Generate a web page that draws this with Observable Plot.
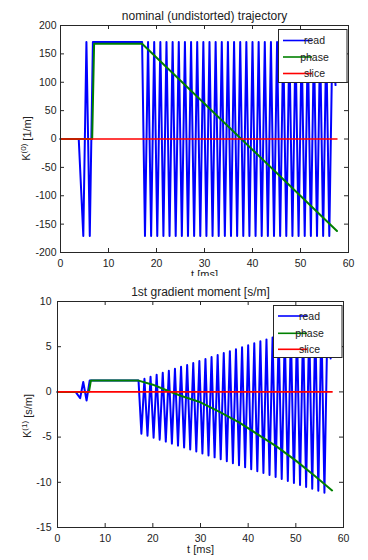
<!DOCTYPE html>
<html><head><meta charset="utf-8">
<script src="https://cdn.jsdelivr.net/npm/d3@7"></script>
<script src="https://cdn.jsdelivr.net/npm/@observablehq/plot@0.6"></script>
<style>
body{margin:0;background:#fff;}
#wrap{width:368px;height:560px;overflow:hidden;background:#fff;}
#wrap svg{display:block;overflow:hidden;}
</style>
</head><body><div id="wrap"></div>
<script>
// ---- data ----
const xTicks = [0, 10, 20, 30, 40, 50, 60];
const yTicks0 = [-200, -150, -100, -50, 0, 50, 100, 150, 200];
const yTicks1 = [-15, -10, -5, 0, 5, 10];
const seriesNames = ["read", "phase", "slice"];
const seriesColors = ["#0000ff", "#008000", "#ff0000"];

const readT = [0, 3.8, 4.75, 5.4, 6.1, 6.75, 17.0,
  17.6, 18.24, 18.88, 19.52, 20.16, 20.80, 21.44, 22.08, 22.72, 23.36, 24.00, 24.64,
  25.28, 25.92, 26.56, 27.20, 27.84, 28.48, 29.12, 29.76, 30.40, 31.04, 31.68, 32.32,
  32.96, 33.60, 34.24, 34.88, 35.52, 36.16, 36.80, 37.44, 38.08, 38.72, 39.36, 40.00,
  40.64, 41.28, 41.92, 42.56, 43.20, 43.84, 44.48, 45.12, 45.76, 46.40, 47.04, 47.68,
  48.32, 48.96, 49.60, 50.24, 50.88, 51.52, 52.16, 52.80, 53.44, 54.08, 54.72, 55.36,
  56.00, 56.64, 57.3];
const readK0 = [0, 0, -171, 171, -171, 171, 171,
  -171, 171, -171, 171, -171, 171, -171, 171, -171, 171, -171, 171,
  -171, 171, -171, 171, -171, 171, -171, 171, -171, 171, -171, 171,
  -171, 171, -171, 171, -171, 171, -171, 171, -171, 171, -171, 171,
  -171, 171, -171, 171, -171, 171, -171, 171, -171, 171, -171, 171,
  -171, 171, -171, 171, -171, 171, -171, 171, -171, 171, -171, 171,
  -171, 171, 95];
const readK1 = [0, 0, -0.7, 1.1, -0.95, 1.25, 1.25,
  -4.63, 1.46, -4.85, 1.68, -5.07, 1.90, -5.28, 2.11, -5.50, 2.33, -5.72, 2.55,
  -5.94, 2.77, -6.16, 2.98, -6.37, 3.20, -6.59, 3.42, -6.81, 3.64, -7.03, 3.85,
  -7.24, 4.07, -7.46, 4.29, -7.68, 4.51, -7.90, 4.72, -8.11, 4.94, -8.33, 5.16,
  -8.55, 5.38, -8.77, 5.60, -8.98, 5.81, -9.20, 6.03, -9.42, 6.25, -9.64, 6.47,
  -9.85, 6.68, -10.07, 6.90, -10.29, 7.12, -10.51, 7.34, -10.72, 7.55, -10.94, 7.77,
  -11.16, 7.99, 3.7];

const phaseT0 = [0, 6.6, 7.0, 17.0, 57.6];
const phaseK0 = [0, 0, 168, 168, -162];
const phaseT1 = [0, 6.6, 7.0, 17.0, 20, 23, 26, 30, 34, 38, 42, 46, 50, 54, 57.6];
const phaseK1 = [0, 0, 1.25, 1.25, 0.8, 0.15, -0.45, -1.15, -2.2, -3.35, -4.7, -6.05, -7.6, -9.3, -10.9];

const sliceT = [0, 57.6];
const sliceK = [0, 0];

const zip = (ts, vs) => ts.map((t, i) => ({t, v: vs[i]}));

const FONT = "Liberation Sans, Arial, Helvetica, sans-serif";
const INK = "#262626";

function panel(o) {
  const W = 368;
  const innerH = o.height - o.marginTop - o.marginBottom;
  const innerW = W - o.marginLeft - o.marginRight;
  const svg = Plot.plot({
    width: W, height: o.height,
    marginTop: o.marginTop, marginBottom: o.marginBottom,
    marginLeft: o.marginLeft, marginRight: o.marginRight,
    style: {fontFamily: FONT, fontSize: "10.5px", color: "#222", background: "white", overflow: "hidden"},
    x: {domain: [0, 60], ticks: xTicks, tickSize: 0, tickPadding: 7, label: null, tickFormat: d => String(d)},
    y: {domain: o.yDomain, ticks: o.yTicks, tickSize: 0, tickPadding: o.padY, label: null, tickFormat: d => String(d)},
    marks: [
      Plot.ruleX(xTicks, {x: d => d, insetTop: innerH - 4, stroke: INK}),
      Plot.ruleX(xTicks, {x: d => d, insetBottom: innerH - 4, stroke: INK}),
      Plot.ruleY(o.yTicks, {y: d => d, insetRight: innerW - 4, stroke: INK}),
      Plot.ruleY(o.yTicks, {y: d => d, insetLeft: innerW - 4, stroke: INK}),
      Plot.line(o.read, {x: "t", y: "v", stroke: seriesColors[0], strokeWidth: 2}),
      Plot.line(o.phase, {x: "t", y: "v", stroke: seriesColors[1], strokeWidth: 2}),
      Plot.line(o.slice, {x: "t", y: "v", stroke: seriesColors[2], strokeWidth: 1.6}),
      Plot.frame({stroke: INK}),
      Plot.text([o.title], {frameAnchor: "top", dy: o.titleDy, fontSize: 12, fill: "#222"}),
      Plot.text(["t [ms]"], {frameAnchor: "bottom", dy: 25, fontSize: 11, fill: "#222"})
    ]
  });
  const s = d3.select(svg);
  // y label with superscript
  const yl = s.append("text")
    .attr("transform", `translate(${o.ylabelX},${o.ylabelY}) rotate(-90)`)
    .attr("text-anchor", "middle")
    .attr("font-family", FONT).attr("font-size", 11).attr("fill", "#222");
  yl.append("tspan").text("K");
  yl.append("tspan").attr("dy", "-0.45em").attr("font-size", 8).text(o.sup);
  yl.append("tspan").attr("dy", "0.45em").text(" " + o.unit);
  // legend
  const L = o.legend;
  const g = s.append("g");
  g.append("rect").attr("x", L.x).attr("y", L.y).attr("width", L.w).attr("height", L.h)
    .attr("fill", "white").attr("stroke", INK);
  seriesNames.forEach((name, i) => {
    const yy = L.rows[i];
    g.append("line").attr("x1", L.lx0).attr("x2", L.lx1).attr("y1", yy).attr("y2", yy)
      .attr("stroke", seriesColors[i]).attr("stroke-width", 1.6);
    g.append("text").attr("x", L.tx).attr("y", yy).attr("dy", "0.35em")
      .attr("font-family", FONT).attr("font-size", 10.5).attr("fill", "#222").text(name);
  });
  return svg;
}

const wrap = document.getElementById("wrap");
wrap.appendChild(panel({
  height: 276, marginTop: 25, marginBottom: 24, marginLeft: 60, marginRight: 20,
  yDomain: [-200, 200], yTicks: yTicks0, padY: 4, titleDy: -14,
  title: "nominal (undistorted) trajectory",
  read: zip(readT, readK0), phase: zip(phaseT0, phaseK0), slice: zip(sliceT, sliceK),
  ylabelX: 30, ylabelY: 138.5, sup: "(0)", unit: "[1/m]",
  legend: {x: 278.5, y: 29.5, w: 68.5, h: 53, rows: [40.5, 57, 73.5], lx0: 283, lx1: 312, tx: 314.5}
}));
wrap.appendChild(panel({
  height: 284, marginTop: 25, marginBottom: 33, marginLeft: 57, marginRight: 25,
  yDomain: [-15, 10], yTicks: yTicks1, padY: 6, titleDy: -13.7,
  title: "1st gradient moment [s/m]",
  read: zip(readT, readK1), phase: zip(phaseT1, phaseK1), slice: zip(sliceT, sliceK),
  ylabelX: 31, ylabelY: 140, sup: "(1)", unit: "[s/m]",
  legend: {x: 273.5, y: 29.5, w: 68.5, h: 52, rows: [40, 57.3, 73.3], lx0: 278, lx1: 307, tx: 309.5}
}));
</script>
</body></html>
